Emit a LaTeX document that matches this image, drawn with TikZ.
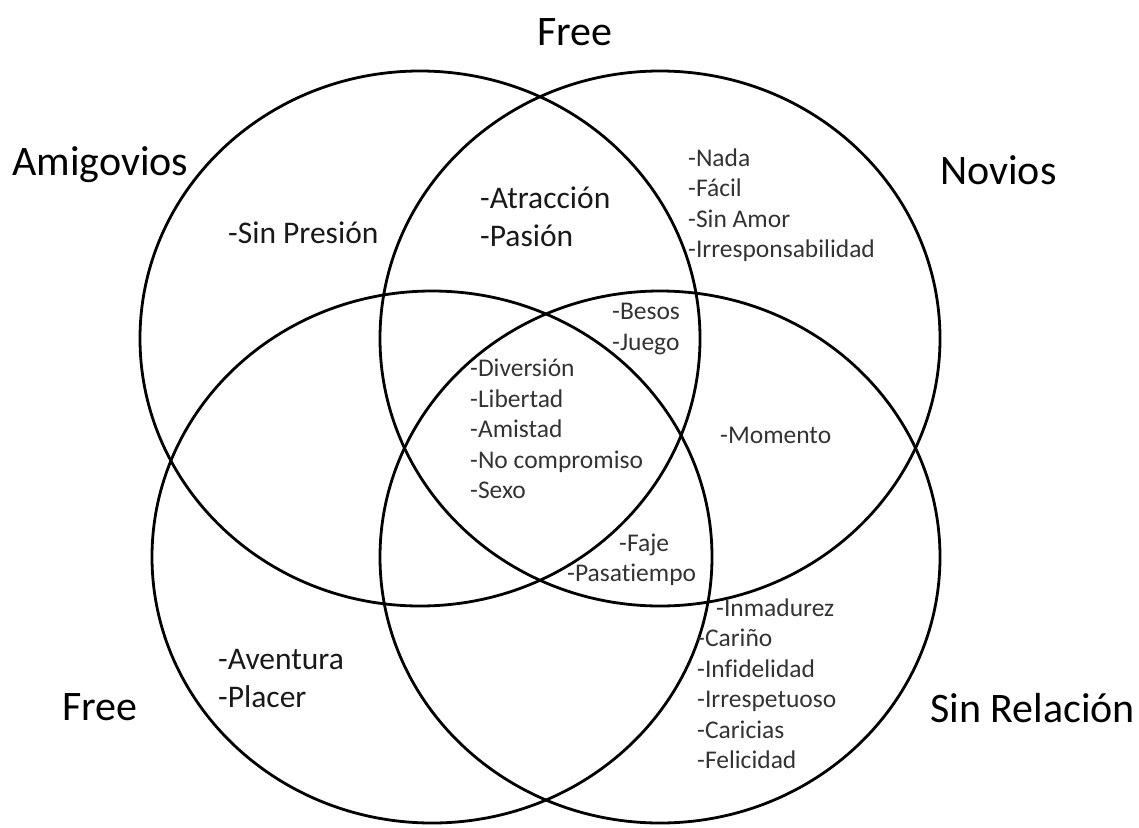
\documentclass[tikz,border=0pt]{standalone}
\usepackage{fontspec}
\setmainfont{Carlito}[Ligatures={NoCommon}]
\tikzset{
  ring/.style={line width=2.8pt, color=black},
  bigtag/.style={inner sep=0pt, font=\fontsize{42}{50}\selectfont},
  midlist/.style={anchor=west, align=left, inner sep=0pt, text=black!90, font=\fontsize{31.5}{38}\selectfont},
  smalllist/.style={anchor=west, align=left, inner sep=0pt, text=black!80, font=\fontsize{25.5}{30.5}\selectfont}
}

\begin{document}
\begin{tikzpicture}[x=1pt, y=-1pt]
		%%%%% START %%%%%
		\useasboundingbox (0,0) rectangle (1139,827);
		
		% the four sets
		\draw[ring] (420, 338.5) ellipse [x radius=280, y radius=267.5];
		\draw[ring] (660, 338.5) ellipse [x radius=280, y radius=267.5];
		\draw[ring] (432, 557) ellipse [x radius=280, y radius=266];
		\draw[ring] (660, 557) ellipse [x radius=280, y radius=266];
		
		% set names
		\node[bigtag] (freetop) at (575, 32) {Free};
		\node[bigtag, anchor=west] (amigovios) at (12, 165) {Amigovios};
		\node[bigtag, anchor=west] (novios) at (940, 170) {Novios};
		\node[bigtag, anchor=west] (freeleft) at (62, 707) {Free};
		\node[bigtag, anchor=west] (sinrelacion) at (930, 708) {Sin Relación};
		
		% regions
		\node[midlist] (presion) at (228, 233) {-Sin Presión};
		\node[midlist] (atraccion) at (480, 217) {-Atracción\\-Pasión};
		\node[midlist] (aventura) at (218, 678) {-Aventura\\-Placer};
		
		\node[smalllist] (nada) at (688, 205) {-Nada\\-Fácil\\-Sin Amor\\-Irresponsabilidad};
		\node[smalllist] (besos) at (612, 329) {-Besos\\-Juego};
		\node[smalllist] (diversion) at (470, 429) {-Diversión\\-Libertad\\-Amistad\\-No compromiso\\-Sexo};
		\node[smalllist] (momento) at (720, 435) {-Momento};
		\node[smalllist] (faje) at (619, 545) {-Faje};
		\node[smalllist] (pasatiempo) at (567, 575) {-Pasatiempo};
		\node[smalllist] (inmadurez) at (716, 608) {-Inmadurez};
		\node[smalllist] (carino) at (697, 699) {-Cariño\\-Infidelidad\\-Irrespetuoso\\-Caricias\\-Felicidad};
		
		%%%%% END %%%%%
\end{tikzpicture}
\end{document}
